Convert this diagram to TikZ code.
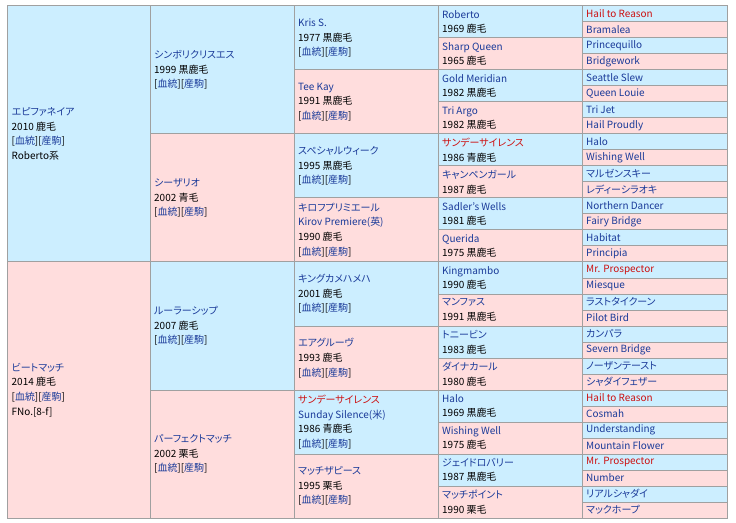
\documentclass[tikz,border=0pt]{standalone}
\usepackage{fontspec}
\setmainfont{Noto Sans CJK JP}[RawFeature=+palt]
\definecolor{bluecell}{HTML}{CCEEFF}
\definecolor{pinkcell}{HTML}{FFDDDD}
\definecolor{gridgray}{HTML}{A0A0A0}
\definecolor{linkblue}{HTML}{1A3A99}
\definecolor{redname}{HTML}{CC1111}
\newcommand{\bloodlinks}{[\textcolor{linkblue}{血統}][\textcolor{linkblue}{産駒}]}

\begin{document}
\begin{tikzpicture}[x=1bp, y=-1bp,
    cell/.style={draw=gridgray, line width=1bp},
    horse/.style={anchor=west, align=left, inner sep=0pt, font=\fontsize{10}{14.7}\selectfont},
    leaf/.style={horse, text=linkblue}]
    \useasboundingbox (0, 0) rectangle (736, 523);

    % cells, sire on top (blue), dam below (pink)
    \foreach \xa/\xb/\h in {7/150/256, 150/294/128, 294/438/64, 438/582/32, 582/727/16} {
        \pgfmathtruncatemacro\last{512/\h-1}
        \foreach \i in {0,...,\last} {
            \ifodd\i\relax \def\fc{pinkcell}\else \def\fc{bluecell}\fi
            \draw[cell, fill=\fc] (\xa, 6+\h*\i) rectangle (\xb, 6+\h*\i+\h);
        }
    }

    % 1st generation
    \node[horse] (sire) at (11.5, 134) {\textcolor{linkblue}{エピファネイア}\\2010 鹿毛\\\bloodlinks\\Roberto系};
    \node[horse] (dam) at (11.5, 390) {\textcolor{linkblue}{ビートマッチ}\\2014 鹿毛\\\bloodlinks\\FNo.[8-f]};

    % 2nd generation
    \node[horse] (ss) at (154, 70) {\textcolor{linkblue}{シンボリクリスエス}\\1999 黒鹿毛\\\bloodlinks};
    \node[horse] (sd) at (154, 198) {\textcolor{linkblue}{シーザリオ}\\2002 青毛\\\bloodlinks};
    \node[horse] (ds) at (154, 326) {\textcolor{linkblue}{ルーラーシップ}\\2007 鹿毛\\\bloodlinks};
    \node[horse] (dd) at (154, 454) {\textcolor{linkblue}{パーフェクトマッチ}\\2002 栗毛\\\bloodlinks};

    % 3rd generation
    \node[horse] (sss) at (298, 38) {\textcolor{linkblue}{Kris S.}\\1977 黒鹿毛\\\bloodlinks};
    \node[horse] (ssd) at (298, 102) {\textcolor{linkblue}{Tee Kay}\\1991 黒鹿毛\\\bloodlinks};
    \node[horse] (sds) at (298, 166) {\textcolor{linkblue}{スペシャルウィーク}\\1995 黒鹿毛\\\bloodlinks};
    \node[horse] (sdd) at (298, 230) {\textcolor{linkblue}{キロフプリミエール}\\\textcolor{linkblue}{Kirov Premiere(英)}\\1990 鹿毛\\\bloodlinks};
    \node[horse] (dss) at (298, 294) {\textcolor{linkblue}{キングカメハメハ}\\2001 鹿毛\\\bloodlinks};
    \node[horse] (dsd) at (298, 358) {\textcolor{linkblue}{エアグルーヴ}\\1993 鹿毛\\\bloodlinks};
    \node[horse] (dds) at (298, 422) {\textcolor{redname}{サンデーサイレンス}\\\textcolor{linkblue}{Sunday Silence(米)}\\1986 青鹿毛\\\bloodlinks};
    \node[horse] (ddd) at (298, 486) {\textcolor{linkblue}{マッチザピース}\\1995 栗毛\\\bloodlinks};

    % 4th generation
    \foreach \nm/\yr [count=\i from 0] in {
        Roberto/1969 鹿毛, Sharp Queen/1965 鹿毛, Gold Meridian/1982 黒鹿毛, Tri Argo/1982 黒鹿毛,
        \textcolor{redname}{サンデーサイレンス}/1986 青鹿毛, キャンペンガール/1987 鹿毛,
        Sadler's Wells/1981 鹿毛, Querida/1975 黒鹿毛,
        Kingmambo/1990 鹿毛, マンファス/1991 黒鹿毛, トニービン/1983 鹿毛, ダイナカール/1980 鹿毛,
        Halo/1969 黒鹿毛, Wishing Well/1975 鹿毛, ジェイドロバリー/1987 黒鹿毛, マッチポイント/1990 栗毛} {
        \node[horse] (g4-\i) at (442, 22+32*\i) {\textcolor{linkblue}{\nm}\\\yr};
    }

    % 5th generation
    \foreach \nm [count=\i from 0] in {
        \textcolor{redname}{Hail to Reason}, Bramalea, Princequillo, Bridgework,
        Seattle Slew, Queen Louie, Tri Jet, Hail Proudly,
        Halo, Wishing Well, マルゼンスキー, レディーシラオキ,
        Northern Dancer, Fairy Bridge, Habitat, Principia,
        \textcolor{redname}{Mr. Prospector}, Miesque, ラストタイクーン, Pilot Bird,
        カンパラ, Severn Bridge, ノーザンテースト, シャダイフェザー,
        \textcolor{redname}{Hail to Reason}, Cosmah, Understanding, Mountain Flower,
        \textcolor{redname}{Mr. Prospector}, Number, リアルシャダイ, マックホープ} {
        \node[leaf] (g5-\i) at (586, 14+16*\i) {\nm};
    }
\end{tikzpicture}
\end{document}
